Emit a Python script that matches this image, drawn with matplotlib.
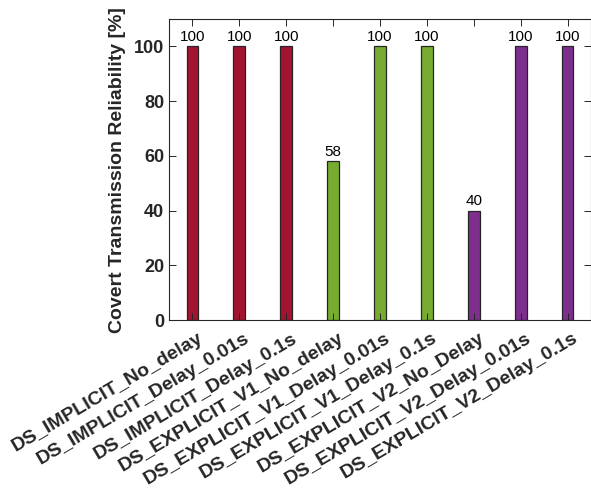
import matplotlib
matplotlib.use("Agg")
import matplotlib.pyplot as plt

plt.rcParams['font.family'] = ['Liberation Sans', 'DejaVu Sans']

categories = ["DS_IMPLICIT_No_delay", "DS_IMPLICIT_Delay_0.01s", "DS_IMPLICIT_Delay_0.1s",
              "DS_EXPLICIT_V1_No_delay", "DS_EXPLICIT_V1_Delay_0.01s", "DS_EXPLICIT_V1_Delay_0.1s",
              "DS_EXPLICIT_V2_No_Delay", "DS_EXPLICIT_V2_Delay_0.01s", "DS_EXPLICIT_V2_Delay_0.1s"]
reliability = [100, 100, 100, 58, 100, 100, 40, 100, 100]
colors = ["#A2142F"] * 3 + ["#77AC30"] * 3 + ["#7E2F8E"] * 3

fig = plt.figure(figsize=(5.91, 4.88), dpi=100)
ax = fig.add_axes([0.286, 0.344, 0.714, 0.617])

x = list(range(1, len(categories) + 1))
ax.bar(x, reliability, width=0.25, color=colors, edgecolor="#262626", linewidth=0.9)
for xi, v in zip(x, reliability):
    ax.text(xi, v + 0.8, f"{v}", ha="center", va="bottom", fontsize=11, color="black")

ax.set_xlim(0.5, 9.5)
ax.set_ylim(0, 110)
ax.set_yticks([0, 20, 40, 60, 80, 100])
ax.set_xticks(x)
ax.set_xticklabels([])
# rotated category labels, nudged slightly right of each tick
for xi, name in zip(x, categories):
    ax.annotate(name, xy=(xi, 0), xycoords=("data", "axes fraction"),
                xytext=(3.5, -7), textcoords="offset points",
                rotation=30.5, ha="right", va="top", rotation_mode="anchor",
                fontsize=14, fontweight="bold", color="#262626", annotation_clip=False)
for lbl in ax.get_yticklabels():
    lbl.set_fontsize(13)
    lbl.set_fontweight("bold")
    lbl.set_color("#262626")
ax.set_ylabel("Covert Transmission Reliability [%]", fontsize=14, fontweight="bold",
              color="#262626", labelpad=6)
ax.tick_params(direction="in", top=True, right=True, length=5, width=0.7, colors="#262626")
for s in ax.spines.values():
    s.set_color("#262626")
    s.set_linewidth(0.8)

fig.savefig("out.png", dpi=100)
